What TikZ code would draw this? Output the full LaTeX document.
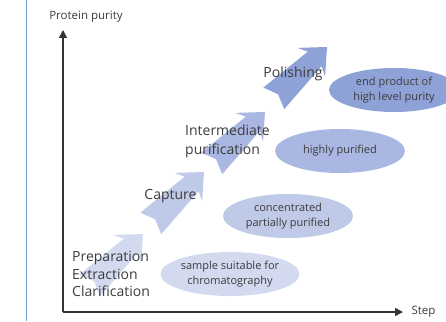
\documentclass[tikz,border=0pt]{standalone}
\usepackage{fontspec}
\setmainfont{Open Sans}
\usetikzlibrary{arrows.meta, shapes.geometric}

\definecolor{stepA}{HTML}{D3D9EF}
\definecolor{stepB}{HTML}{BFC9E8}
\definecolor{stepC}{HTML}{A9B7E2}
\definecolor{stepD}{HTML}{8FA2D7}
\definecolor{textgray}{HTML}{3C3C3C}
\definecolor{edgeblue}{HTML}{6FA8DC}

% fat arrow, tip at #1, filled with #2
\newcommand{\stagearrow}[2]{%
  \fill[#2, shift={(#1)}, rotate=44]
    (-74,-15) -- (-17,-10) -- (-22,-20) -- (0,0) -- (-22,20) -- (-17,10) -- (-74,15) -- (-68,0) -- cycle;}

\begin{document}
\begin{tikzpicture}[x=1pt, y=1pt,
    stagetext/.style={text=textgray, font=\fontsize{14}{17.5}\selectfont, inner sep=0pt},
    blob/.style={ellipse, minimum width=130, minimum height=44, inner sep=0pt,
      text=textgray, align=center, font=\fontsize{11}{15}\selectfont}]
    \useasboundingbox (0,0) rectangle (446,321);
    \clip (0,0) rectangle (446,321);

    % Rand links
    \draw[edgeblue, line width=1.2] (26.5,0) -- (26.5,321);

    % Achsen
    \coordinate (O) at (63,9);
    \coordinate (ytip) at (63,291);
    \coordinate (xtip) at (403,9);
    \draw[-{Triangle[length=8,width=8]}, line width=1.3, black!80] (O) -- (ytip);
    \draw[-{Triangle[length=8,width=8]}, line width=1.3, black!80] (O) -- (xtip);
    \node[text=textgray, font=\fontsize{11.5}{13}\selectfont] (purity) at (86,304) {Protein purity};
    \node[text=textgray, font=\fontsize{11.5}{13}\selectfont, anchor=west] (step) at (408,9) {Step};

    % Pfeile
    \stagearrow{143,87}{stepA}
    \stagearrow{204,149}{stepB}
    \stagearrow{265,209}{stepC}
    \stagearrow{327,274}{stepD}

    % Stufen
    \node[stagetext, anchor=west, align=left] (prep) at (72,47) {Preparation\\Extraction\\Clarification};
    \node[stagetext] (capture) at (170.5,125) {Capture};
    \node[stagetext, anchor=west, align=left, font=\fontsize{14}{19}\selectfont] (inter) at (185,179.5) {Intermediate\\purification};
    \node[stagetext] (polish) at (293,247) {Polishing};

    % Ellipsen
    \node[blob, fill=stepA] (sample) at (230,47) {sample suitable for\\chromatography};
    \node[blob, fill=stepB] (partial) at (288,105) {concentrated\\partially purified};
    \node[blob, fill=stepC] (highly) at (340,170) {highly purified};
    \node[blob, fill=stepD] (endprod) at (394,231) {end product of\\high level purity};
  \end{tikzpicture}
\end{document}
